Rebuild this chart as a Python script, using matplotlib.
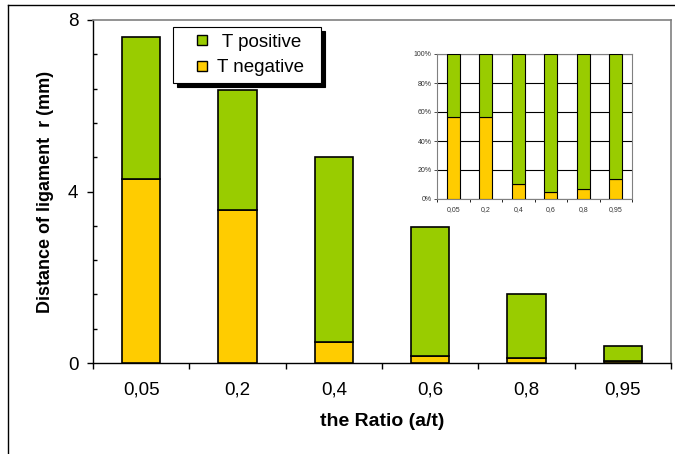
import numpy as np
import matplotlib
matplotlib.use("Agg")
import matplotlib.pyplot as plt
from matplotlib.lines import Line2D

plt.rcParams["font.family"] = ["Liberation Sans", "DejaVu Sans"]

# --- data ---
ratios = ["0,05", "0,2", "0,4", "0,6", "0,8", "0,95"]
t_negative = [4.30, 3.58, 0.485, 0.16, 0.108, 0.054]
t_positive = [3.30, 2.78, 4.315, 3.01, 1.502, 0.346]

GREEN = "#99CC00"
YELLOW = "#FFCC00"
GRAY = "#808080"

x = np.arange(len(ratios))
neg = np.array(t_negative)
pos = np.array(t_positive)

fig = plt.figure(figsize=(6.75, 4.54), dpi=100)

# figure border (left/top visible in the reference)
fig.add_artist(Line2D([8 / 675, 8 / 675], [0, 1 - 5 / 454], transform=fig.transFigure, color="k", lw=1))
fig.add_artist(Line2D([8 / 675, 1], [1 - 5 / 454, 1 - 5 / 454], transform=fig.transFigure, color="k", lw=1))

# ---------------- main chart ----------------
ax = fig.add_axes([93 / 675, 1 - 363 / 454, (671 - 93) / 675, (363 - 20) / 454])
ax.bar(x, neg, width=0.4, color=YELLOW, edgecolor="k", lw=1.2, zorder=3)
ax.bar(x, pos, width=0.4, bottom=neg, color=GREEN, edgecolor="k", lw=1.2, zorder=3)

ax.set_xlim(-0.5, len(ratios) - 0.5)
ax.set_ylim(0, 8)
ax.set_yticks([0, 4, 8])
ax.set_yticks(np.arange(0, 8.01, 0.8), minor=True)
ax.tick_params(axis="y", which="major", direction="out", length=4, width=1, labelsize=13.5, pad=6.5)
ax.tick_params(axis="y", which="minor", direction="in", length=3, width=1)

ax.set_xticks(x)
ax.set_xticklabels(ratios)
ax.set_xticks(np.arange(-0.5, len(ratios)), minor=True)
ax.tick_params(axis="x", which="major", length=0, labelsize=13.5, pad=13)
ax.tick_params(axis="x", which="minor", direction="out", length=4, width=1)

for s in ["top", "right"]:
    ax.spines[s].set_color(GRAY)
    ax.spines[s].set_linewidth(1.2)
for s in ["left", "bottom"]:
    ax.spines[s].set_color("k")
    ax.spines[s].set_linewidth(1)

ax.set_xlabel("the Ratio (a/t)", fontsize=14, fontweight="bold", labelpad=11)
ax.set_ylabel("Distance of ligament  r (mm)", fontsize=13, fontweight="bold", labelpad=10)

handles = [
    Line2D([], [], ls="none", marker="s", markersize=7.5, markerfacecolor=GREEN, markeredgecolor="k", markeredgewidth=1),
    Line2D([], [], ls="none", marker="s", markersize=7.5, markerfacecolor=YELLOW, markeredgecolor="k", markeredgewidth=1),
]
leg = fig.legend(handles, [" T positive\u00a0\u00a0", "T negative\u00a0\u00a0"], loc="upper left",
                 bbox_to_anchor=(173 / 675, 1 - 27 / 454), borderaxespad=0,
                 fontsize=13.5, fancybox=False, edgecolor="k", framealpha=1,
                 shadow={"color": "k", "alpha": 1, "ox": 3, "oy": -3},
                 handlelength=2.4, handletextpad=-0.4,
                 labelspacing=0.45, borderpad=0.35)
leg.get_frame().set_linewidth(0.8)

# ---------------- inset: 100% stacked ----------------
tot = neg + pos
neg_pct = neg / tot * 100
pos_pct = pos / tot * 100

ins = fig.add_axes([437 / 675, 1 - 199 / 454, (632 - 437) / 675, (199 - 54) / 454])
ins.bar(x, neg_pct, width=0.4, color=YELLOW, edgecolor="k", lw=0.8, zorder=3)
ins.bar(x, pos_pct, width=0.4, bottom=neg_pct, color=GREEN, edgecolor="k", lw=0.8, zorder=3)
ins.set_xlim(-0.5, len(ratios) - 0.5)
ins.set_ylim(0, 100)
ins.set_yticks(np.arange(0, 101, 20))
ins.set_yticklabels([f"{v}%" for v in range(0, 101, 20)])
ins.yaxis.grid(True, color="k", lw=0.8, zorder=0)
ins.set_xticks(x)
ins.set_xticklabels(ratios)
ins.set_xticks(np.arange(-0.5, len(ratios)), minor=True)
ins.tick_params(axis="x", which="major", length=0, labelsize=5, pad=5, colors="#333333")
ins.tick_params(axis="x", which="minor", direction="out", length=2, width=0.6)
ins.tick_params(axis="y", direction="out", length=2, width=0.6, labelsize=5, pad=2, colors="#333333")
for s in ["top", "right", "left", "bottom"]:
    ins.spines[s].set_color(GRAY)
    ins.spines[s].set_linewidth(0.8)

fig.savefig("out.png", dpi=100)
